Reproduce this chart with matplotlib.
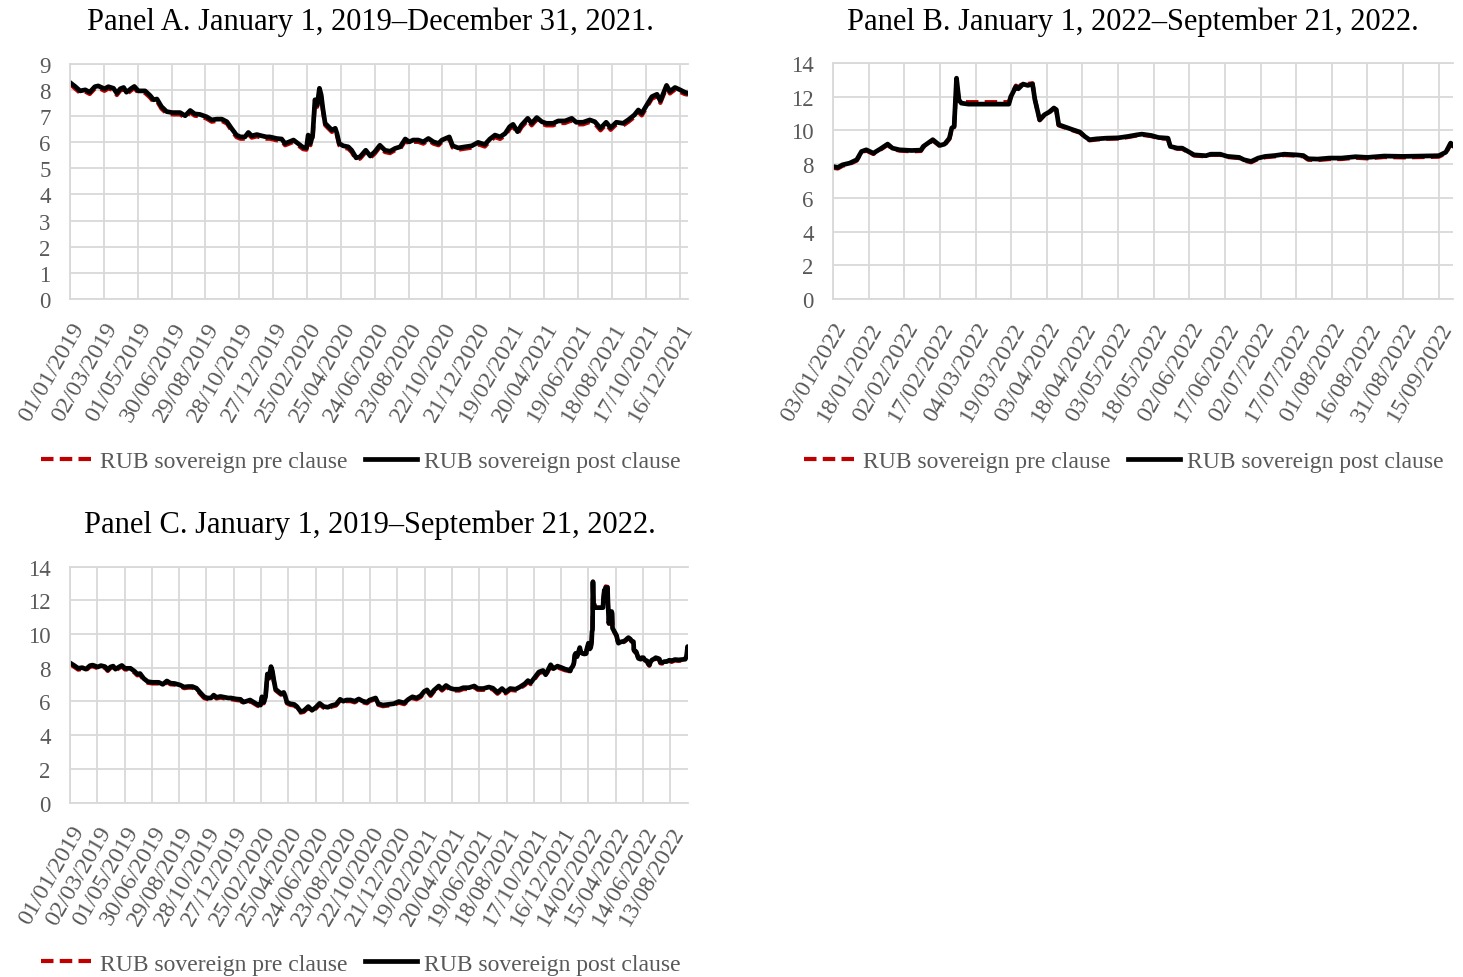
import pandas as pd
import matplotlib
matplotlib.use('Agg')
import matplotlib.pyplot as plt
import matplotlib.dates as mdates

plt.rcParams['font.family'] = ['Liberation Serif', 'DejaVu Serif']

# --- Data ---
# Panel A: Jan 2019 - Dec 2021
dates_a = ['2019-01-01', '2019-01-10', '2019-01-19', '2019-01-28', '2019-02-05', '2019-02-14', '2019-02-20',
           '2019-03-03', '2019-03-10', '2019-03-19', '2019-03-25', '2019-03-31', '2019-04-06', '2019-04-11',
           '2019-04-20', '2019-04-25', '2019-05-02', '2019-05-14', '2019-05-23', '2019-05-29', '2019-06-04',
           '2019-06-12', '2019-06-21', '2019-07-01', '2019-07-15', '2019-07-24', '2019-08-02', '2019-08-10',
           '2019-08-19', '2019-08-31', '2019-09-09', '2019-09-18', '2019-09-27', '2019-10-06', '2019-10-14',
           '2019-10-23', '2019-10-30', '2019-11-07', '2019-11-13', '2019-11-19', '2019-11-28', '2019-12-07',
           '2019-12-15', '2019-12-21', '2020-01-02', '2020-01-11', '2020-01-17', '2020-01-22', '2020-02-01',
           '2020-02-09', '2020-02-18', '2020-02-24', '2020-02-27', '2020-03-02', '2020-03-06', '2020-03-10',
           '2020-03-14', '2020-03-18', '2020-03-21', '2020-03-24', '2020-03-28', '2020-04-03', '2020-04-09',
           '2020-04-15', '2020-04-18', '2020-04-22', '2020-04-29', '2020-05-08', '2020-05-14', '2020-05-22',
           '2020-05-29', '2020-06-08', '2020-06-16', '2020-06-24', '2020-07-03', '2020-07-12', '2020-07-21',
           '2020-07-30', '2020-08-08', '2020-08-17', '2020-08-24', '2020-08-31', '2020-09-09', '2020-09-18',
           '2020-09-27', '2020-10-06', '2020-10-15', '2020-10-21', '2020-11-03', '2020-11-09', '2020-11-19',
           '2020-12-01', '2020-12-13', '2020-12-24', '2021-01-05', '2021-01-14', '2021-01-23', '2021-02-01',
           '2021-02-10', '2021-02-18', '2021-02-24', '2021-03-04', '2021-03-11', '2021-03-22', '2021-03-29',
           '2021-04-07', '2021-04-16', '2021-04-24', '2021-05-06', '2021-05-15', '2021-05-27', '2021-06-08',
           '2021-06-16', '2021-06-28', '2021-07-10', '2021-07-19', '2021-07-29', '2021-08-08', '2021-08-16',
           '2021-08-26', '2021-09-07', '2021-09-16', '2021-09-27', '2021-10-04', '2021-10-10', '2021-10-19',
           '2021-10-28', '2021-11-06', '2021-11-12', '2021-11-23', '2021-11-29', '2021-12-08', '2021-12-17',
           '2021-12-25', '2021-12-31']
post_a = [8.28, 8.13, 7.96, 8.00, 7.91, 8.12, 8.15, 8.04, 8.12, 8.06, 7.87, 8.04, 8.09, 7.91, 8.06, 8.13,
          7.96, 7.96, 7.78, 7.62, 7.65, 7.36, 7.17, 7.13, 7.13, 7.01, 7.21, 7.08, 7.06, 6.97, 6.85, 6.88,
          6.88, 6.78, 6.53, 6.27, 6.20, 6.20, 6.37, 6.24, 6.29, 6.24, 6.20, 6.20, 6.14, 6.12, 5.95, 5.99,
          6.08, 5.95, 5.80, 5.78, 6.27, 5.95, 6.27, 7.62, 7.42, 8.06, 7.81, 7.29, 6.72, 6.59, 6.46, 6.53,
          6.33, 5.95, 5.86, 5.82, 5.69, 5.40, 5.44, 5.69, 5.47, 5.63, 5.88, 5.69, 5.65, 5.76, 5.82, 6.12,
          6.01, 6.08, 6.08, 6.01, 6.14, 6.01, 5.95, 6.08, 6.20, 5.86, 5.78, 5.82, 5.86, 5.99, 5.91, 6.12,
          6.27, 6.20, 6.33, 6.59, 6.68, 6.40, 6.65, 6.91, 6.72, 6.94, 6.78, 6.72, 6.72, 6.81, 6.81, 6.91,
          6.76, 6.76, 6.85, 6.78, 6.53, 6.76, 6.55, 6.76, 6.72, 6.85, 7.04, 7.23, 7.10, 7.42, 7.74, 7.83,
          7.58, 8.17, 7.94, 8.09, 8.00, 7.91, 7.87]
pre_a = [8.22, 8.05, 7.88, 7.93, 7.84, 8.05, 8.08, 7.96, 8.05, 7.99, 7.80, 7.97, 8.02, 7.83, 7.99, 8.06,
         7.89, 7.88, 7.70, 7.54, 7.57, 7.28, 7.10, 7.06, 7.06, 6.94, 7.14, 7.01, 6.99, 6.90, 6.78, 6.81,
         6.81, 6.71, 6.45, 6.19, 6.13, 6.13, 6.30, 6.17, 6.22, 6.17, 6.13, 6.13, 6.07, 6.05, 5.88, 5.92,
         6.01, 5.88, 5.73, 5.71, 6.20, 5.88, 6.20, 7.55, 7.35, 7.99, 7.74, 7.22, 6.65, 6.52, 6.39, 6.46,
         6.26, 5.88, 5.79, 5.75, 5.62, 5.33, 5.37, 5.62, 5.40, 5.56, 5.81, 5.62, 5.58, 5.69, 5.75, 6.05,
         5.94, 6.01, 6.01, 5.94, 6.07, 5.94, 5.88, 6.01, 6.13, 5.79, 5.71, 5.75, 5.79, 5.92, 5.83, 6.04,
         6.19, 6.12, 6.25, 6.51, 6.60, 6.32, 6.57, 6.83, 6.64, 6.86, 6.70, 6.64, 6.64, 6.73, 6.73, 6.83,
         6.68, 6.68, 6.77, 6.70, 6.45, 6.68, 6.47, 6.68, 6.64, 6.77, 6.96, 7.15, 7.02, 7.34, 7.66, 7.75,
         7.50, 8.09, 7.86, 8.01, 7.92, 7.84, 7.81]

# Panel B: Jan 2022 - Sep 2022
dates_b = ['2022-01-03', '2022-01-05', '2022-01-07', '2022-01-10', '2022-01-13', '2022-01-15', '2022-01-17',
           '2022-01-20', '2022-01-23', '2022-01-26', '2022-01-28', '2022-01-31', '2022-02-05', '2022-02-09',
           '2022-02-10', '2022-02-12', '2022-02-14', '2022-02-17', '2022-02-19', '2022-02-21', '2022-02-22',
           '2022-02-23', '2022-02-24', '2022-02-25', '2022-02-26', '2022-03-01', '2022-03-09', '2022-03-18',
           '2022-03-19', '2022-03-21', '2022-03-22', '2022-03-24', '2022-03-26', '2022-03-28', '2022-03-29',
           '2022-03-31', '2022-04-02', '2022-04-04', '2022-04-06', '2022-04-07', '2022-04-08', '2022-04-10',
           '2022-04-12', '2022-04-14', '2022-04-17', '2022-04-19', '2022-04-21', '2022-04-24', '2022-04-28',
           '2022-05-03', '2022-05-07', '2022-05-11', '2022-05-13', '2022-05-17', '2022-05-20', '2022-05-24',
           '2022-05-25', '2022-05-28', '2022-05-30', '2022-06-02', '2022-06-04', '2022-06-09', '2022-06-11',
           '2022-06-15', '2022-06-18', '2022-06-23', '2022-06-25', '2022-06-28', '2022-07-01', '2022-07-04',
           '2022-07-08', '2022-07-12', '2022-07-17', '2022-07-20', '2022-07-22', '2022-07-26', '2022-07-31',
           '2022-08-05', '2022-08-11', '2022-08-16', '2022-08-23', '2022-08-31', '2022-09-08', '2022-09-15',
           '2022-09-18', '2022-09-20', '2022-09-21']
post_b = [7.86, 7.80, 7.96, 8.06, 8.26, 8.75, 8.85, 8.65, 8.91, 9.19, 8.95, 8.85, 8.81, 8.83, 9.05, 9.25,
          9.45, 9.11, 9.19, 9.54, 10.14, 10.24, 13.10, 11.82, 11.62, 11.56, 11.56, 11.56, 12.04, 12.60,
          12.47, 12.75, 12.67, 12.75, 11.82, 10.63, 10.93, 11.09, 11.33, 11.23, 10.34, 10.24, 10.14, 10.04,
          9.90, 9.64, 9.45, 9.50, 9.54, 9.56, 9.64, 9.74, 9.78, 9.70, 9.58, 9.54, 9.05, 8.95, 8.95, 8.71,
          8.55, 8.50, 8.59, 8.59, 8.46, 8.40, 8.26, 8.16, 8.36, 8.46, 8.51, 8.59, 8.55, 8.51, 8.32, 8.30,
          8.36, 8.36, 8.44, 8.40, 8.48, 8.46, 8.48, 8.50, 8.71, 9.25, 9.11]
pre_b = [7.78, 7.74, 7.90, 8.01, 8.21, 8.70, 8.80, 8.60, 8.86, 9.14, 8.90, 8.80, 8.76, 8.78, 9.00, 9.20,
         9.40, 9.06, 9.14, 9.49, 10.09, 10.19, 12.95, 11.75, 11.70, 11.68, 11.68, 11.68, 12.10, 12.66,
         12.55, 12.82, 12.76, 12.80, 11.85, 10.60, 10.90, 11.06, 11.30, 11.20, 10.30, 10.20, 10.10, 10.00,
         9.86, 9.60, 9.41, 9.46, 9.50, 9.52, 9.60, 9.70, 9.74, 9.66, 9.54, 9.50, 9.01, 8.91, 8.91, 8.67,
         8.51, 8.46, 8.55, 8.55, 8.42, 8.36, 8.21, 8.11, 8.31, 8.41, 8.46, 8.54, 8.50, 8.46, 8.26, 8.24,
         8.30, 8.30, 8.38, 8.34, 8.42, 8.40, 8.42, 8.44, 8.64, 9.18, 9.05]

RED = '#C00000'
GRID = '#D9D9D9'
TEXT = '#595959'


def draw_panel(ax, dates, pre, post, start, end, step, ymax, ystep):
    x = pd.to_datetime(dates)
    ax.plot(x, pre, color=RED, lw=3, ls=(0, (3, 1.5)), label='RUB sovereign pre clause')
    ax.plot(x, post, color='black', lw=3.4, label='RUB sovereign post clause')
    ax.set_xlim(pd.Timestamp(start), pd.Timestamp(end))
    ax.set_ylim(0, ymax)
    ax.set_yticks(range(0, ymax + 1, ystep))
    ax.set_xticks(pd.date_range(start, end, freq=step))
    ax.xaxis.set_major_formatter(mdates.DateFormatter('%d/%m/%Y'))
    ax.grid(True, color=GRID, lw=1.3)
    ax.set_axisbelow(True)
    for s in ['left', 'bottom', 'top']:
        ax.spines[s].set_color(GRID)
        ax.spines[s].set_linewidth(1.3)
    ax.spines['right'].set_visible(False)
    ax.tick_params(axis='both', length=0, colors=TEXT)
    ax.tick_params(axis='y', pad=14, labelsize=16.5)
    ax.tick_params(axis='x', pad=14, labelsize=17.5)
    for lbl in ax.get_xticklabels():
        lbl.set_rotation(60)
        lbl.set_ha('right')
        lbl.set_va('top')
        lbl.set_rotation_mode('anchor')


fig = plt.figure(figsize=(14.63, 9.78), dpi=100)
ax_a = fig.add_axes([0.04785, 0.69325, 0.42242, 0.24059])
ax_b = fig.add_axes([0.56938, 0.69325, 0.42379, 0.24131])
ax_c = fig.add_axes([0.04785, 0.17842, 0.42242, 0.24131])

draw_panel(ax_a, dates_a, pre_a, post_a, '2019-01-01', '2021-12-31', '60D', 9, 1)
draw_panel(ax_b, dates_b, pre_b, post_b, '2022-01-03', '2022-09-21', '15D', 14, 2)
draw_panel(ax_c, dates_a + dates_b, pre_a + pre_b, post_a + post_b, '2019-01-01', '2022-09-21', '60D', 14, 2)

fig.text(0.2529, 0.9775, 'Panel A. January 1, 2019\u2013December 31, 2021.', ha='center', va='center', fontsize=22)
fig.text(0.7744, 0.9775, 'Panel B. January 1, 2022\u2013September 21, 2022.', ha='center', va='center', fontsize=22)
fig.text(0.2529, 0.4632, 'Panel C. January 1, 2019\u2013September 21, 2022.', ha='center', va='center', fontsize=22)

for ax, lx, ly in [(ax_a, 0.2468, 0.5276), (ax_b, 0.7683, 0.5276), (ax_c, 0.2468, 0.0133)]:
    leg = ax.legend(loc='center', bbox_to_anchor=(lx, ly), bbox_transform=fig.transFigure, ncol=2,
                    frameon=False, fontsize=17, handlelength=2.2, handletextpad=0.3, columnspacing=0.75)
    for t in leg.get_texts():
        t.set_color(TEXT)

fig.savefig('out.png', dpi=100)
